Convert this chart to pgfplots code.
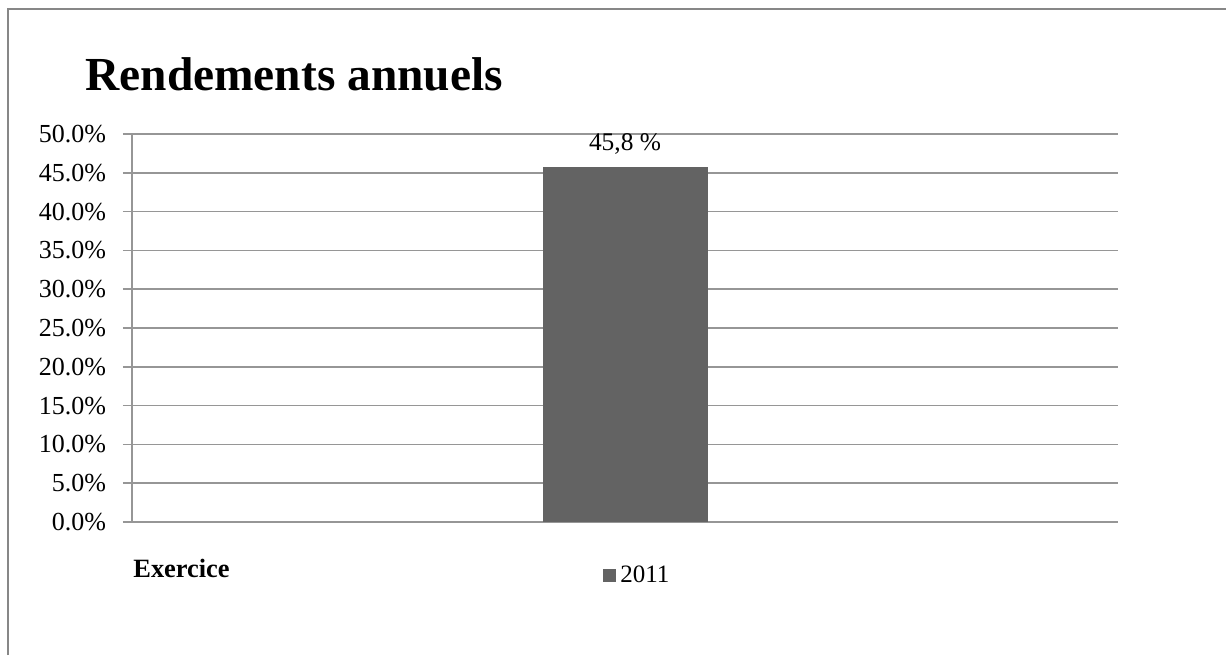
\documentclass[border=0pt]{standalone}
\usepackage{fontspec}
\setmainfont{Liberation Serif}
\usepackage{pgfplots}
\pgfplotsset{compat=1.18}
\definecolor{barc}{RGB}{99,99,99}
\definecolor{gridc}{RGB}{150,150,150}
\definecolor{framec}{RGB}{135,135,135}
\begin{document}
\begin{tikzpicture}
\useasboundingbox (0,0) rectangle (613pt,327.5pt);
\fill[white] (0,0) rectangle (613pt,327.5pt);
\draw[framec, line width=1pt] (4pt,0) -- (4pt,322.75pt) -- (613pt,322.75pt);
\node[anchor=base west, inner sep=0, font=\fontsize{23.7}{28}\selectfont\bfseries] at (42.5pt,282.5pt) {Rendements annuels};
\begin{axis}[
  at={(66pt,66.5pt)}, anchor=south west,
  scale only axis, width=493pt, height=194pt,
  xmin=-0.5, xmax=0.5, ymin=0, ymax=50,
  axis x line=bottom, axis y line=left,
  axis line style={gridc, line width=0.75pt, -},
  xtick=\empty,
  ytick={0,5,...,50},
  ymajorgrids, grid style={gridc, line width=0.75pt},
  major tick style={gridc, line width=0.75pt},
  tick align=outside, major tick length=4.5pt,
  /pgf/number format/assume math mode=true,
  yticklabel={\pgfmathprintnumber[fixed,fixed zerofill,precision=1]{\tick}\%},
  yticklabel style={font=\fontsize{13}{15}\selectfont, xshift=-5pt},
  ybar, bar width=82.5pt,
  nodes near coords={\pgfmathprintnumber[fixed,fixed zerofill,precision=1,use comma]{\pgfplotspointmeta}~\%},
  nodes near coords style={anchor=base, yshift=8.3pt, font=\fontsize{12.7}{15}\selectfont},
  legend style={at={(0.4777,-0.139)}, anchor=west, draw=none, fill=none, inner sep=0pt,
    font=\fontsize{12.5}{15}\selectfont, legend cell align=left},
  legend image code/.code={\fill[barc] (0pt,-3.25pt) rectangle (6.5pt,3.25pt);},
]
\addplot[fill=barc, draw=none] coordinates {(0,45.8)};
\addlegendentry{2011}
\end{axis}
\node[anchor=base west, inner sep=0, font=\fontsize{13.2}{15}\selectfont\bfseries] at (66.5pt,39pt) {Exercice};
\end{tikzpicture}
\end{document}
